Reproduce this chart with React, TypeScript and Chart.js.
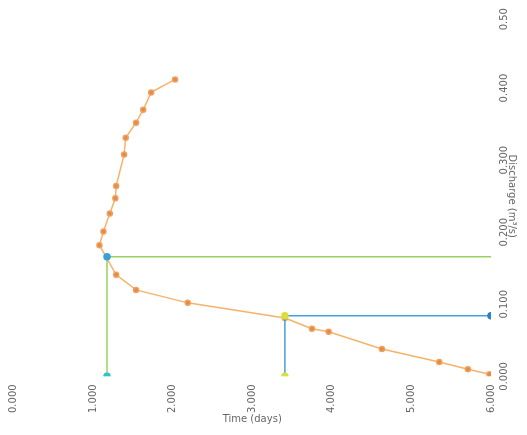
import React, { useEffect, useRef } from "react";
import { Chart, registerables } from "chart.js";

Chart.register(...registerables);

const curveX = [2.03, 1.73, 1.63, 1.54, 1.41, 1.39, 1.29, 1.28, 1.21, 1.13, 1.08, 1.29, 1.54, 2.19, 3.41, 3.75, 3.96, 4.63, 5.35, 5.71, 5.98];
const curveY = [0.412, 0.394, 0.37, 0.352, 0.331, 0.308, 0.264, 0.247, 0.226, 0.201, 0.182, 0.141, 0.12, 0.102, 0.081, 0.066, 0.062, 0.038, 0.02, 0.01, 0.003];
const greenX = [1.175, 1.175, 6.0];
const greenY = [0, 0.166, 0.166];
const blueX = [3.41, 3.41, 6.0];
const blueY = [0, 0.084, 0.084];
const xTitle = "Time (days)";
const yTitle = "Discharge (m³/s)";

const pts = (xs: number[], ys: number[]) => xs.map((x, i) => ({ x, y: ys[i] }));

export default function App() {
  const ref = useRef<HTMLCanvasElement | null>(null);
  useEffect(() => {
    if (!ref.current) return;
    const chart = new Chart(ref.current, {
      type: "scatter",
      data: {
        datasets: [
          {
            data: pts(greenX, greenY),
            showLine: true,
            borderColor: "rgba(140,205,80,0.9)",
            borderWidth: 1.5,
            pointRadius: [3, 3, 0],
            pointBackgroundColor: ["#2ec4c8", "#3a9fd8", "#8ccd50"],
            pointBorderColor: ["#2ec4c8", "#3a9fd8", "#8ccd50"],
          },
          {
            data: pts(blueX, blueY),
            showLine: true,
            borderColor: "rgba(50,150,215,0.9)",
            borderWidth: 1.5,
            pointRadius: [3, 3, 3],
            pointBackgroundColor: ["#d8e03a", "#d8e03a", "#2d7fc8"],
            pointBorderColor: ["#d8e03a", "#d8e03a", "#2d7fc8"],
          },
          {
            data: pts(curveX, curveY),
            showLine: true,
            borderColor: "rgba(245,165,80,0.85)",
            borderWidth: 1.5,
            pointRadius: 2.5,
            pointBackgroundColor: "#e08a45",
            pointBorderColor: "#f0a060",
          },
        ],
      },
      options: {
        animation: false,
        responsive: false,
        layout: { padding: { top: 8, right: 4, left: -4, bottom: 0 } },
        plugins: { legend: { display: false }, tooltip: { enabled: false } },
        scales: {
          x: {
            type: "linear",
            min: 0,
            max: 6,
            grid: { display: false },
            border: { display: false },
            ticks: {
              stepSize: 1,
              minRotation: 90,
              maxRotation: 90,
              padding: 0,
              color: "#666",
              font: { size: 10, family: "DejaVu Sans" },
              callback: (v: any) => Number(v).toFixed(3),
            },
            title: { display: true, text: xTitle, color: "#666", padding: { top: 0, bottom: 0 }, font: { size: 10, family: "DejaVu Sans" } },
          },
          y: {
            type: "linear",
            position: "right",
            min: 0,
            max: 0.5,
            grid: { display: false },
            border: { display: false },
            ticks: {
              stepSize: 0.1,
              minRotation: 90,
              maxRotation: 90,
              padding: -9,
              crossAlign: "center",
              color: "#666",
              font: { size: 10, family: "DejaVu Sans" },
              callback: (v: any) => Number(v).toFixed(3),
            },
            title: { display: true, text: yTitle, color: "#666", padding: { top: 0, bottom: 13 }, font: { size: 10, family: "DejaVu Sans" } },
          },
        },
      },
    });
    return () => chart.destroy();
  }, []);
  return <canvas ref={ref} width={514} height={417} />;
}
